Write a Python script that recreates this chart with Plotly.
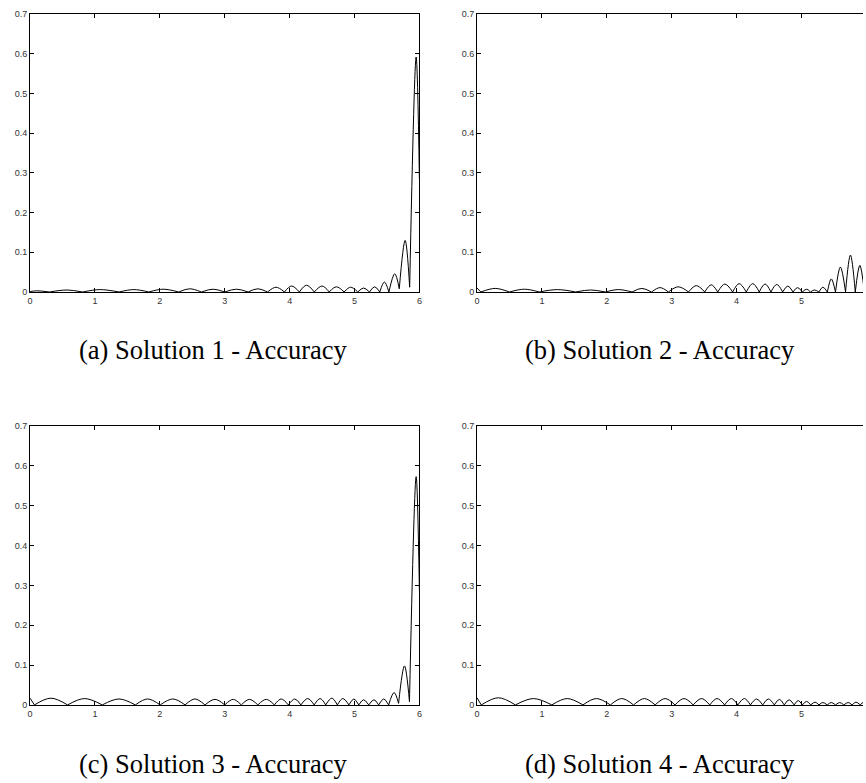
import plotly.graph_objects as go

# ---------------- data ----------------
# Panel (a) Solution 1
a_head_x, a_head_y = [], []
a_min_x = [0.00, 0.30, 0.81, 1.37, 1.83, 2.29, 2.64, 3.00, 3.36, 3.66, 3.92, 4.15, 4.38, 4.61,
           4.84, 5.05, 5.23, 5.39, 5.53, 5.69, 5.85, 6.00]
a_min_y = [0.001, 0, 0, 0, 0, 0, 0, 0, 0, 0, 0, 0, 0, 0,
           0, 0, 0, 0, 0, 0.008, 0.012, 0.284]
a_peak_x = [0.10, 0.57, 1.08, 1.60, 2.05, 2.46, 2.82, 3.18, 3.51, 3.79, 4.03, 4.26, 4.50, 4.72,
            4.94, 5.14, 5.31, 5.46, 5.62, 5.78, 5.95]
a_peak_y = [0.003, 0.005, 0.006, 0.006, 0.007, 0.008, 0.007, 0.007, 0.008, 0.012, 0.015, 0.017,
            0.015, 0.013, 0.012, 0.010, 0.013, 0.025, 0.046, 0.130, 0.592]

# Panel (b) Solution 2
b_head_x, b_head_y = [0.00, 0.06], [0.010, 0.0]
b_min_x = [0.06, 0.50, 0.96, 1.52, 1.98, 2.39, 2.69, 2.95, 3.26, 3.51, 3.71, 3.94, 4.15, 4.35,
           4.53, 4.71, 4.87, 5.015, 5.14, 5.27, 5.40, 5.525, 5.68, 5.83, 5.97]
b_min_y = [0] * 25
b_peak_x = [0.28, 0.73, 1.24, 1.75, 2.18, 2.54, 2.82, 3.10, 3.38, 3.61, 3.82, 4.04, 4.25, 4.44,
            4.62, 4.79, 4.94, 5.08, 5.20, 5.33, 5.46, 5.60, 5.755, 5.90]
b_peak_y = [0.009, 0.007, 0.006, 0.005, 0.006, 0.009, 0.011, 0.013, 0.016, 0.018, 0.020, 0.021,
            0.021, 0.020, 0.019, 0.015, 0.011, 0.007, 0.005, 0.012, 0.033, 0.063, 0.093, 0.067]

# Panel (c) Solution 3
c_head_x, c_head_y = [0.00, 0.066], [0.017, 0.0]
c_min_x = [0.066, 0.577, 1.112, 1.622, 2.005, 2.388, 2.694, 3.00, 3.255, 3.51, 3.765, 3.98, 4.173,
           4.378, 4.556, 4.735, 4.913, 5.066, 5.219, 5.372, 5.526, 5.679, 5.847, 6.00]
c_min_y = [0, 0, 0, 0, 0, 0, 0, 0, 0, 0, 0, 0, 0,
           0, 0, 0, 0, 0, 0, 0, 0, 0.004, 0.008, 0.287]
c_peak_x = [0.32, 0.84, 1.37, 1.81, 2.20, 2.54, 2.85, 3.13, 3.38, 3.64, 3.87, 4.08, 4.28, 4.47,
            4.65, 4.82, 4.99, 5.14, 5.30, 5.45, 5.61, 5.77, 5.95]
c_peak_y = [0.017, 0.016, 0.015, 0.015, 0.015, 0.015, 0.014, 0.014, 0.014, 0.014, 0.015, 0.015,
            0.016, 0.016, 0.017, 0.016, 0.015, 0.013, 0.013, 0.015, 0.031, 0.098, 0.573]

# Panel (d) Solution 4
d_head_x, d_head_y = [0.00, 0.066], [0.018, 0.0]
d_min_x = [0.066, 0.592, 1.153, 1.633, 2.056, 2.413, 2.745, 3.051, 3.332, 3.587, 3.816, 4.02, 4.214,
           4.403, 4.582, 4.735, 4.888, 5.015, 5.143, 5.27, 5.398, 5.526, 5.653, 5.781, 5.908, 6.00]
d_min_y = [0] * 26
d_peak_x = [0.33, 0.87, 1.39, 1.84, 2.23, 2.58, 2.90, 3.19, 3.46, 3.70, 3.92, 4.12, 4.31, 4.49,
            4.66, 4.81, 4.95, 5.08, 5.21, 5.33, 5.46, 5.59, 5.72, 5.84, 5.95]
d_peak_y = [0.018, 0.016, 0.016, 0.016, 0.016, 0.016, 0.016, 0.016, 0.016, 0.016, 0.016, 0.016,
            0.015, 0.015, 0.014, 0.013, 0.011, 0.009, 0.007, 0.006, 0.006, 0.006, 0.006, 0.007, 0.006]

captions = ["(a) Solution 1 - Accuracy", "(b) Solution 2 - Accuracy",
            "(c) Solution 3 - Accuracy", "(d) Solution 4 - Accuracy"]
x_ticks = [0, 1, 2, 3, 4, 5, 6]
y_ticks = [0, 0.1, 0.2, 0.3, 0.4, 0.5, 0.6, 0.7]

panels = [
    (a_head_x, a_head_y, a_min_x, a_min_y, a_peak_x, a_peak_y),
    (b_head_x, b_head_y, b_min_x, b_min_y, b_peak_x, b_peak_y),
    (c_head_x, c_head_y, c_min_x, c_min_y, c_peak_x, c_peak_y),
    (d_head_x, d_head_y, d_min_x, d_min_y, d_peak_x, d_peak_y),
]


def lobes(hx, hy, mx, my, px, py):
    xs, ys = list(hx), list(hy)
    if xs:
        xs.append(None)
        ys.append(None)
    for k in range(len(px)):
        xs += [mx[k], px[k], mx[k + 1], None]
        ys += [my[k], py[k], my[k + 1], None]
    return xs, ys


W, H = 866, 783
fig = go.Figure()

# pixel geometry of the panels
left_dom = [27.3 / W, 419.3 / W]
right_dom = [477.3 / W, 1.0]
top_dom = [1 - 290.7 / H, 1 - 9.3 / H]
bot_dom = [1 - 709.0 / H, 1 - 426.5 / H]
right_range_end = (W - 477.3) / 65.34

layouts = [
    (left_dom, top_dom, 6.0, True),
    (right_dom, top_dom, right_range_end, False),
    (left_dom, bot_dom, 6.0, True),
    (right_dom, bot_dom, right_range_end, False),
]

tickfont = dict(family="Liberation Sans, Arial, sans-serif", size=9, color="#333333")

for i, (p, lay) in enumerate(zip(panels, layouts)):
    n = i + 1
    xs, ys = lobes(*p)
    fig.add_trace(go.Scatter(
        x=xs, y=ys, mode="lines", connectgaps=False,
        line=dict(color="black", width=1, shape="spline", smoothing=1),
        xaxis=f"x{n}", yaxis=f"y{n}", hoverinfo="skip", showlegend=False,
    ))
    xdom, ydom, xend, full = lay
    xa = dict(domain=xdom, range=[0, xend], anchor=f"y{n}", tickvals=x_ticks,
              ticktext=[str(t) for t in x_ticks], ticks="inside", ticklen=4, tickwidth=1,
              tickcolor="black", showline=True, linecolor="black", linewidth=1,
              mirror="ticks", showgrid=False, zeroline=False, tickfont=tickfont,
              fixedrange=True)
    ya = dict(domain=ydom, range=[0, 0.7], anchor=f"x{n}", tickvals=y_ticks,
              ticktext=["0", "0.1", "0.2", "0.3", "0.4", "0.5", "0.6", "0.7"],
              ticks="inside", ticklen=4, tickwidth=1, tickcolor="black",
              showline=True, linecolor="black", linewidth=1,
              mirror="ticks" if full else False, showgrid=False, zeroline=False,
              tickfont=tickfont, fixedrange=True)
    fig.layout[f"xaxis{n}" if n > 1 else "xaxis"] = xa
    fig.layout[f"yaxis{n}" if n > 1 else "yaxis"] = ya

cap_pos = [(211.5, 349), (661.5, 349), (211.5, 769), (661.5, 769)]
for text, (cx, cy) in zip(captions, cap_pos):
    fig.add_annotation(text=text, x=cx / W, y=1 - cy / H, xref="paper", yref="paper",
                       xanchor="center", yanchor="middle", showarrow=False,
                       font=dict(family="Liberation Serif, Times New Roman, serif",
                                 size=26.5, color="black"))

fig.update_layout(width=W, height=H, margin=dict(l=0, r=0, t=0, b=0),
                  paper_bgcolor="white", plot_bgcolor="white", showlegend=False)

fig.write_html("out.html", config={"displayModeBar": False},
               post_script="document.body.style.margin='0px';document.body.style.padding='0px';document.body.style.overflow='hidden';")
